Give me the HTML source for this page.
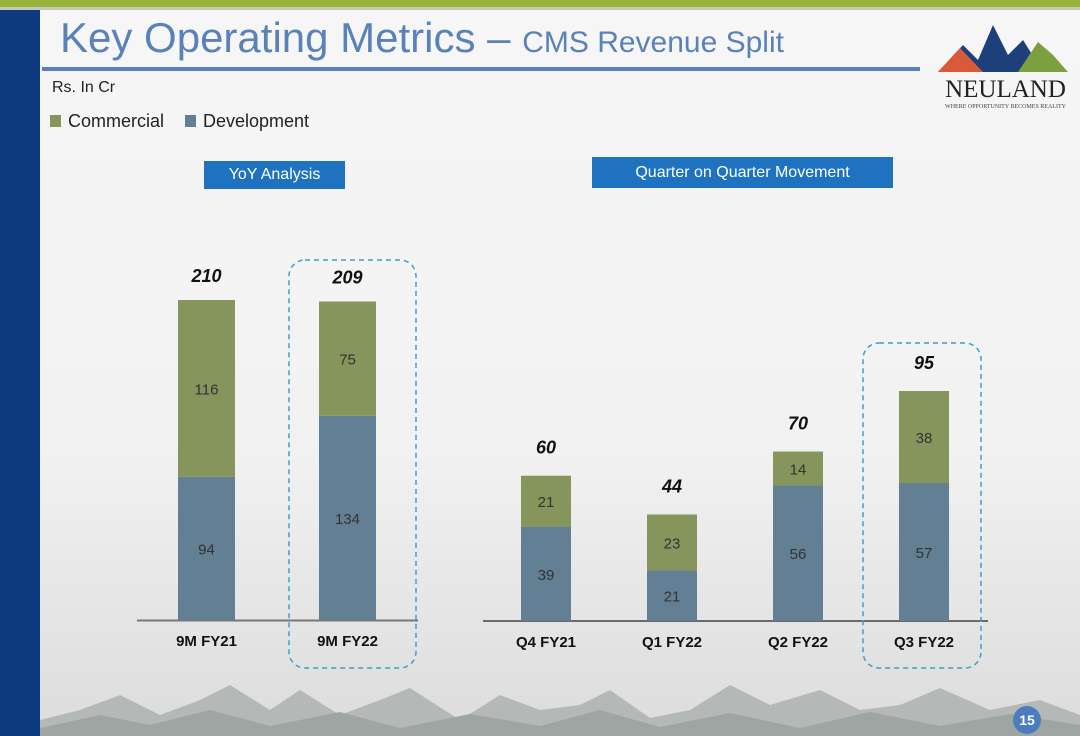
<!DOCTYPE html>
<html><head><meta charset="utf-8"><style>
body{margin:0;width:1080px;height:736px;overflow:hidden;font-family:"Liberation Sans",sans-serif;}
#root{position:relative;width:1080px;height:736px;background:linear-gradient(#f6f6f6 0%,#f2f2f2 60%,#dcdcdc 100%);}
.abs{position:absolute;}
.btn{position:absolute;background:#1f72bf;color:#fff;font-size:16px;text-align:center;}
</style></head><body>
<div id="root">
<div class="abs" style="left:0;top:0;width:1080px;height:7px;background:#96b43c"></div>
<div class="abs" style="left:0;top:7px;width:1080px;height:3px;background:#c4c8b8"></div>
<div class="abs" style="left:0;top:10px;width:40px;height:726px;background:#0d3a7e"></div>
<div class="abs" style="left:60px;top:14px;font-size:42px;color:#5a82b8;white-space:nowrap">Key Operating Metrics – <span style="font-size:30px">CMS Revenue Split</span></div>
<div class="abs" style="left:42px;top:67px;width:878px;height:4px;background:#5a82b8"></div>
<div class="abs" style="left:52px;top:79px;font-size:16px;color:#222">Rs. In Cr</div>
<div class="abs" style="left:50px;top:111px;font-size:18px;color:#222"><span style="display:inline-block;width:11px;height:12px;background:#86955c;margin-right:7px"></span>Commercial</div>
<div class="abs" style="left:185px;top:111px;font-size:18px;color:#222"><span style="display:inline-block;width:11px;height:12px;background:#637f93;margin-right:7px"></span>Development</div>
<div class="abs" style="left:938px;top:20px;width:135px;height:85px">
<svg width="135" height="55" viewBox="0 0 135 55"><polygon points="0,52 25,25 40,40 55,5 70,35 85,20 105,52" fill="#1d3f7a"/><polygon points="0,52 22,28 45,52" fill="#d85a3a"/><polygon points="80,52 100,22 115,35 130,52" fill="#7aa040"/></svg>
<div style="font-family:'Liberation Serif',serif;font-size:25px;color:#222;text-align:center;margin-top:-4px">NEULAND</div>
<div style="font-family:'Liberation Serif',serif;font-size:6px;color:#444;text-align:center">WHERE OPPORTUNITY BECOMES REALITY</div></div>
<div class="btn" style="left:204px;top:161px;width:141px;height:28px;line-height:28px">YoY Analysis</div>
<div class="btn" style="left:592px;top:157px;width:301px;height:31px;line-height:31px">Quarter on Quarter Movement</div>
<svg id="mnt" class="abs" style="left:40px;top:680px" width="1040" height="56">
<polygon points="0,56 0,40 40,30 80,15 120,35 160,20 190,5 230,30 260,10 300,35 340,20 370,8 420,40 460,15 500,30 540,25 570,10 610,38 650,30 690,5 730,25 780,10 820,30 860,25 900,8 950,30 1000,20 1040,35 1040,56" fill="#b4b9b7"/>
<polygon points="0,56 0,48 60,35 110,45 170,30 230,46 300,32 360,48 430,34 500,46 560,30 620,47 690,33 760,48 830,32 900,46 970,34 1040,45 1040,56" fill="#9fa5a3"/></svg>
<svg id="chart" class="abs" style="left:0;top:0" width="1080" height="736"></svg>
<div class="abs" style="left:1013px;top:706px;width:28px;height:28px;border-radius:50%;background:#4c7cc0;color:#fff;font-size:14px;font-weight:bold;text-align:center;line-height:28px">15</div>
</div>
<script>
const leftCats=["9M FY21","9M FY22"];
const leftDev=[94,134];
const leftCom=[116,75];
const leftTot=[210,209];
const qCats=["Q4 FY21","Q1 FY22","Q2 FY22","Q3 FY22"];
const qDev=[39,21,56,57];
const qCom=[21,23,14,38];
const qTot=[60,44,70,95];
const NS="http://www.w3.org/2000/svg";
const svg=document.getElementById('chart');
function mk(t,a){const e=document.createElementNS(NS,t);for(const k in a)e.setAttribute(k,a[k]);svg.appendChild(e);return e;}
function draw(cats,dev,com,tot,base,scale,x0,step,w,off,pre){
  cats.forEach((c,i)=>{
    const x=x0+i*step, hd=dev[i]*scale, hc=com[i]*scale;
    let r=mk('rect',{x:x,y:base-hd,width:w,height:hd,fill:'#637f93'});
    
    
    r=mk('rect',{x:x,y:base-hd-hc,width:w,height:hc,fill:'#86955c'});
    
    
    let t=mk('text',{x:x+w/2,y:base-hd/2+6,'text-anchor':'middle','font-size':15,fill:'#333'});t.textContent=dev[i];
    
    
    t=mk('text',{x:x+w/2,y:base-hd-hc/2+6,'text-anchor':'middle','font-size':15,fill:'#333'});t.textContent=com[i];
    
    
    t=mk('text',{x:x+w/2,y:base-(dev[i]+com[i])*scale-off,'text-anchor':'middle','font-size':18,'font-weight':'bold','font-style':'italic',fill:'#111'});t.textContent=tot[i];
    
    
    t=mk('text',{x:x+w/2,y:base+26,'text-anchor':'middle','font-size':15,'font-weight':'bold',fill:'#111'});t.textContent=c;
    
    
  });
}
let l=mk('line',{x1:137,y1:620.5,x2:418,y2:620.5,stroke:'#777','stroke-width':2});


l=mk('line',{x1:483,y1:621,x2:988,y2:621,stroke:'#222','stroke-width':1.2});


draw(leftCats,leftDev,leftCom,leftTot,620,320/210,178,141,57,18,'yoy');
draw(qCats,qDev,qCom,qTot,621,230/95,521,126,50,22,'qoq');
let h=mk('rect',{x:289,y:260,width:127,height:408,rx:16,fill:'none',stroke:'#3aa0d0','stroke-width':1.5,'stroke-dasharray':'5,4'});


h=mk('rect',{x:863,y:343,width:118,height:325,rx:16,fill:'none',stroke:'#3aa0d0','stroke-width':1.5,'stroke-dasharray':'5,4'});


</script>
</body></html>
